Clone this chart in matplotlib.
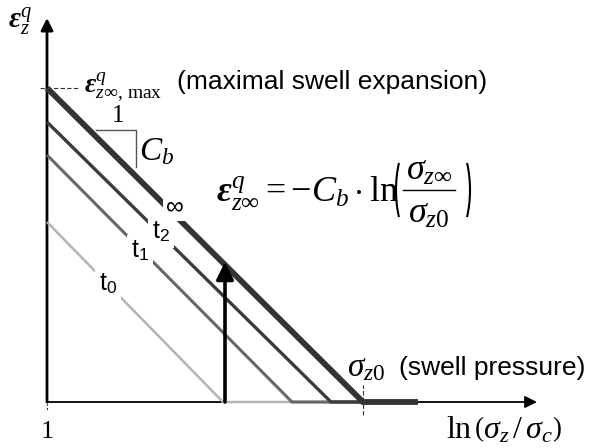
import matplotlib
matplotlib.use("Agg")
import matplotlib.pyplot as plt
from matplotlib.patches import Arc

plt.rcParams["mathtext.fontset"] = "custom"
plt.rcParams["mathtext.rm"] = "Liberation Serif"
plt.rcParams["mathtext.it"] = "Liberation Serif:italic"
plt.rcParams["mathtext.bf"] = "Liberation Serif:italic:bold"
plt.rcParams["mathtext.sf"] = "Liberation Sans"
plt.rcParams["font.family"] = ["Liberation Sans", "DejaVu Sans"]

# curves: strain at the vertical axis and the point where it reaches zero
curve_labels = [r"t$_\mathsf{0}$", r"t$_\mathsf{1}$", r"t$_\mathsf{2}$", "∞"]
curve_y0 = [1.80, 2.47, 2.80, 3.14]
curve_x0 = [1.76, 2.45, 2.84, 3.16]
x_end = 3.71
curve_colors = ["#b4b4b4", "#686868", "#3c3c3c", "#333333"]
curve_widths = [1.8, 2.2, 2.4, 4.2]
label_pos = [(0.61, 1.18), (0.93, 1.51), (1.14, 1.70), (1.28, 1.96)]

arrow_x = 1.78
arrow_top = 1.40

fig = plt.figure(figsize=(5.91, 4.48), dpi=100)
ax = fig.add_axes([0, 0, 1, 1])
ax.set_xlim(-0.47, 5.44)
ax.set_ylim(-0.46, 4.02)
ax.axis("off")

# axes with arrows
ax.annotate("", xy=(0, 3.84), xytext=(0, 0),
            arrowprops=dict(arrowstyle="-|>", color="black", lw=2.0,
                            mutation_scale=18, shrinkA=0, shrinkB=0), zorder=1)
ax.annotate("", xy=(4.90, 0), xytext=(0, 0),
            arrowprops=dict(arrowstyle="-|>", color="black", lw=1.3,
                            mutation_scale=18, shrinkA=0, shrinkB=0), zorder=1)

for y0, x0, c, w in zip(curve_y0, curve_x0, curve_colors, curve_widths):
    ax.plot([0, x0, x_end], [y0, 0, 0], color=c, lw=w,
            solid_capstyle="butt", solid_joinstyle="miter", zorder=2)

for lab, (lx, ly) in zip(curve_labels, label_pos):
    ax.text(lx, ly, lab, fontsize=18, ha="center", va="center", zorder=4,
            bbox=dict(facecolor="white", edgecolor="none", pad=2.5))

# loading arrow
ax.annotate("", xy=(arrow_x, arrow_top), xytext=(arrow_x, 0),
            arrowprops=dict(arrowstyle="-|>", color="black", lw=2.6,
                            mutation_scale=26, shrinkA=0, shrinkB=0), zorder=5)

# dashed helpers
ax.plot([-0.07, 0.31], [curve_y0[-1]] * 2, color="#333333", lw=0.8, ls=(0, (4, 2)), zorder=1)
ax.plot([curve_x0[-1]] * 2, [-0.13, 0.17], color="#333333", lw=0.8, ls=(0, (4, 2)), zorder=3)
ax.plot([0, 0], [-0.01, -0.08], color="#333333", lw=0.8, ls=(0, (2, 2)), zorder=1)

# slope triangle
ax.plot([0.49, 0.89, 0.89], [2.72, 2.72, 2.35], color="#555555", lw=1.0, zorder=1)
ax.text(0.71, 2.86, "1", fontsize=18, family="Liberation Serif", ha="center", va="center")
ax.text(1.10, 2.50, "$C_b$", fontsize=24, ha="center", va="center")

# axis labels and annotations
ax.text(-0.27, 3.81, r"$\mathbf{\varepsilon}^{q}_{z}$", fontsize=21, ha="center", va="center")
ax.text(0.37, 3.15, r"$\mathbf{\varepsilon}^{q}_{z\infty,\,\mathrm{max}}$", fontsize=20,
        ha="left", va="center")
ax.text(1.30, 3.20, "(maximal swell expansion)", fontsize=19, ha="left", va="center")
ax.text(3.00, 0.34, r"$\sigma_{z0}$", fontsize=24, ha="left", va="center")
ax.text(3.52, 0.34, "(swell pressure)", fontsize=19, ha="left", va="center")
ax.text(3.99, -0.28, r"$\ln\left(\sigma_z\,/\,\sigma_c\right)$", fontsize=23,
        ha="left", va="center")
ax.text(0, -0.30, "1", fontsize=19, family="Liberation Serif", ha="center", va="center")

# formula, built from parts so the fraction keeps full size
ax.text(1.69, 2.00, r"$\mathbf{\varepsilon}^{q}_{z\infty} = -C_b\cdot\ln$", fontsize=26,
        ha="left", va="baseline")
ax.text(3.82, 2.22, r"$\sigma_{z\infty}$", fontsize=26, ha="center", va="baseline")
ax.text(3.82, 1.79, r"$\sigma_{z0}$", fontsize=26, ha="center", va="baseline")
ax.plot([3.56, 4.08], [2.12, 2.12], color="black", lw=1.0)
ax.add_patch(Arc((3.79, 2.12), 0.60, 1.25, theta1=135, theta2=225, lw=1.5, color="black"))
ax.add_patch(Arc((3.93, 2.12), 0.60, 1.25, theta1=-45, theta2=45, lw=1.5, color="black"))

fig.savefig("out.png", dpi=100)
